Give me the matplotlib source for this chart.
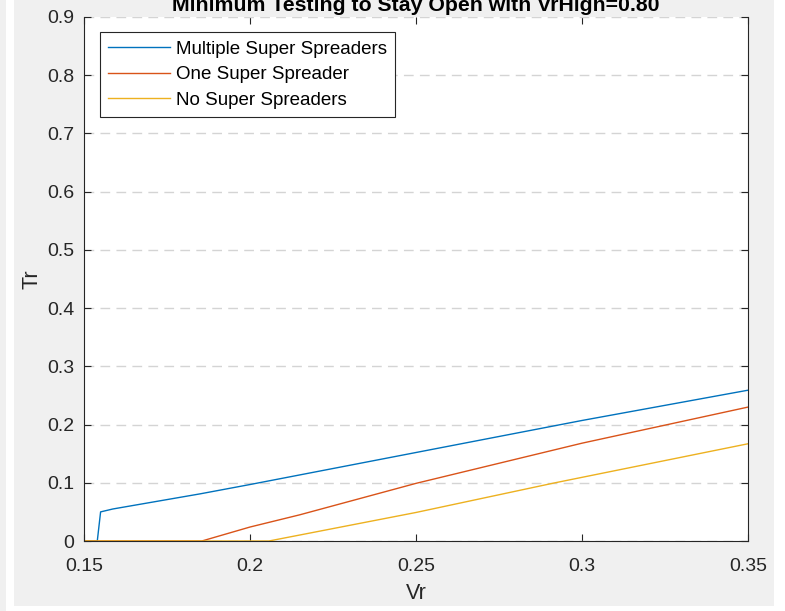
import matplotlib
matplotlib.use("Agg")
import matplotlib.pyplot as plt
from matplotlib.patches import Rectangle

plt.rcParams['font.family'] = ['Liberation Sans', 'DejaVu Sans']

# data (Vr, Tr)
vr_multi = [0.15, 0.154, 0.155, 0.1587, 0.185, 0.2, 0.25, 0.3, 0.35]
tr_multi = [0.0, 0.0, 0.050, 0.055, 0.081, 0.097, 0.152, 0.207, 0.259]

vr_one = [0.15, 0.1855, 0.2, 0.215, 0.25, 0.3, 0.35]
tr_one = [0.0, 0.0, 0.024, 0.045, 0.099, 0.168, 0.230]

vr_none = [0.15, 0.2057, 0.25, 0.2919, 0.35]
tr_none = [0.0, 0.0, 0.049, 0.100, 0.167]

labels = ["Multiple Super Spreaders", "One Super Spreader", "No Super Spreaders"]
colors = ["#0072BD", "#D95319", "#EDB120"]

fig = plt.figure(figsize=(7.85, 6.11), dpi=100, facecolor="white")
# grey window background (screenshot look)
fig.patches.append(Rectangle((0, 0), 6 / 785, 1, transform=fig.transFigure,
                             facecolor="#f0f0f0", edgecolor="none", zorder=-10))
fig.patches.append(Rectangle((14 / 785, 5 / 611), 760 / 785, 606 / 611,
                             transform=fig.transFigure, facecolor="#f0f0f0",
                             edgecolor="none", zorder=-10))

ax = fig.add_axes([84 / 785, 70 / 611, 664 / 785, 524 / 611])
ax.set_facecolor("white")

ax.plot(vr_multi, tr_multi, color=colors[0], lw=1.0, label=labels[0])
ax.plot(vr_one, tr_one, color=colors[1], lw=1.0, label=labels[1])
ax.plot(vr_none, tr_none, color=colors[2], lw=1.0, label=labels[2])

ax.set_xlim(0.15, 0.35)
ax.set_ylim(0, 0.9)
ax.set_xticks([0.15, 0.2, 0.25, 0.3, 0.35])
ax.set_xticklabels(["0.15", "0.2", "0.25", "0.3", "0.35"])
ax.set_yticks([0, 0.1, 0.2, 0.3, 0.4, 0.5, 0.6, 0.7, 0.8, 0.9])
ax.set_yticklabels(["0", "0.1", "0.2", "0.3", "0.4", "0.5", "0.6", "0.7", "0.8", "0.9"])

ax.yaxis.grid(True, color="#d4d4d4", lw=1.0, dashes=(7, 4.5))
ax.set_axisbelow(True)
ax.tick_params(direction="in", length=5, width=0.8, color="#262626",
               labelsize=14, labelcolor="#262626", top=True, right=True)
ax.tick_params(axis="x", pad=12)
ax.tick_params(axis="y", pad=7)
for side in ["left", "right", "bottom"]:
    ax.spines[side].set_color("#262626")
    ax.spines[side].set_linewidth(0.8)
ax.spines["top"].set_visible(False)

ax.set_xlabel("Vr", fontsize=15.5, color="#262626", labelpad=6)
ax.set_ylabel("Tr", fontsize=15.5, color="#262626", labelpad=3)
ax.set_title("Minimum Testing to Stay Open with VrHigh=0.80", fontsize=15.3,
             fontweight="bold", color="black", pad=4)

leg = ax.legend(loc="upper left", bbox_to_anchor=(0.024, 0.971), fontsize=13.5,
                frameon=True, fancybox=False, framealpha=1, edgecolor="#262626",
                handlelength=3.3, handletextpad=0.3, borderpad=0.45,
                labelspacing=0.45, borderaxespad=0)
leg.get_frame().set_linewidth(0.8)

fig.savefig("out.png", dpi=100, facecolor=fig.get_facecolor())
